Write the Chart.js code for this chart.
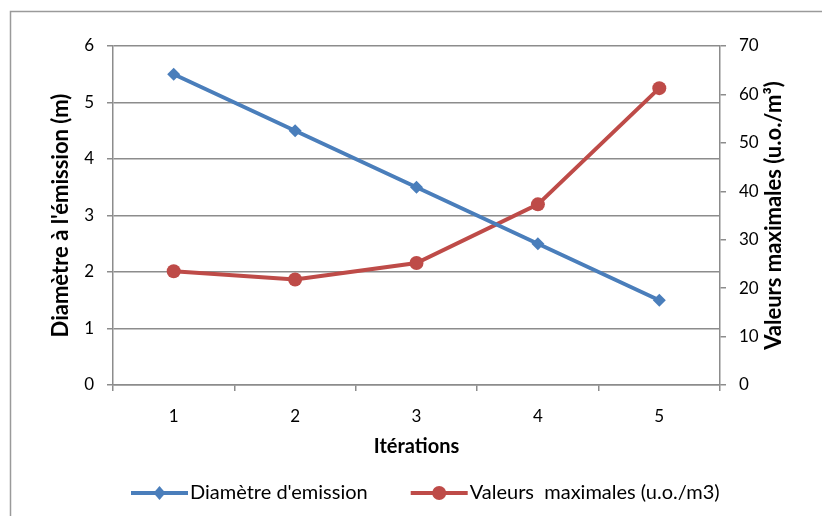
<!DOCTYPE html>
<html>
<head>
<meta charset="utf-8">
<script src="https://cdn.jsdelivr.net/npm/chart.js@4"></script>
<style>
  html, body { margin: 0; padding: 0; background: #fff; }
  #wrap { width: 822px; height: 516px; }
</style>
</head>
<body>
<div id="wrap"><canvas id="myChart" width="822" height="516"></canvas></div>
<script>
const iterations = ['1', '2', '3', '4', '5'];
const diametre = [5.5, 4.5, 3.5, 2.5, 1.5];
const valeursMax = [23.5, 21.8, 25.2, 37.3, 61.3];
const leftTicks = [0, 1, 2, 3, 4, 5, 6];
const rightTicks = [0, 10, 20, 30, 40, 50, 60, 70];

const blue = '#4a7ebb';
const red = '#be4b48';
const gridGray = '#8c8c8c';
const font = 'Lato, "Liberation Sans", sans-serif';
const rightTitle = 'Valeurs maximales (u.o./m³)';

// frame, right-hand title and an excel-like legend (line + marker + text)
const extras = {
    id: 'extras',
    beforeDraw(chart) {
        const c = chart.ctx;
        c.save();
        c.strokeStyle = '#9a9a9a';
        c.lineWidth = 1.5;
        c.strokeRect(10.5, 11.5, 1000, 1000);
        c.restore();
    },
    afterDraw(chart) {
        const c = chart.ctx;
        const a = chart.chartArea;
        c.save();
        c.translate(774, (a.top + a.bottom) / 2);
        c.rotate(-Math.PI / 2);
        c.font = 'bold 22px ' + font;
        c.fillStyle = '#000';
        c.textAlign = 'center';
        c.textBaseline = 'middle';
        c.fillText(rightTitle, 0, 0);
        c.restore();

        // legend
        c.save();
        c.font = '20px ' + font;
        c.textBaseline = 'middle';
        c.textAlign = 'left';
        let x = 131;
        const y = 493;
        chart.data.datasets.forEach(d => {
            c.strokeStyle = d.borderColor;
            c.lineWidth = 4;
            c.beginPath();
            c.moveTo(x, y); c.lineTo(x + 57, y);
            c.stroke();
            c.fillStyle = d.borderColor;
            c.beginPath();
            const mx = x + 28.5;
            if (d.pointStyle === 'rectRot') {
                c.moveTo(mx, y - 7); c.lineTo(mx + 6, y); c.lineTo(mx, y + 7); c.lineTo(mx - 6, y);
            } else {
                c.arc(mx, y, 7, 0, Math.PI * 2);
            }
            c.closePath();
            c.fill();
            c.fillStyle = '#000';
            c.fillText(d.label, x + 59, y);
            x += 59 + c.measureText(d.label).width + 43;
        });
        c.restore();
    }
};

const ctx = document.getElementById('myChart').getContext('2d');
const myChart = new Chart(ctx, {
    type: 'line',
    data: {
        labels: iterations,
        datasets: [{
            label: "Diamètre d'emission",
            data: diametre,
            yAxisID: 'y',
            borderColor: blue,
            backgroundColor: blue,
            borderWidth: 4,
            pointStyle: 'rectRot',
            pointRadius: 6.5,
            pointBorderWidth: 0,
            tension: 0
        }, {
            label: 'Valeurs  maximales (u.o./m3)',
            data: valeursMax,
            yAxisID: 'y1',
            borderColor: red,
            backgroundColor: red,
            borderWidth: 4,
            pointStyle: 'circle',
            pointRadius: 7,
            pointBorderWidth: 0,
            tension: 0
        }]
    },
    options: {
        responsive: false,
        animation: false,
        layout: { padding: { left: 46, right: 35, top: 46, bottom: 64 } },
        scales: {
            x: {
                offset: true,
                afterFit: s => { s.height = 67; },
                grid: { offset: true, drawOnChartArea: false, color: gridGray, lineWidth: 1.5, tickLength: 6 },
                border: { color: gridGray, width: 1.5 },
                ticks: { color: '#000', padding: 15, font: { family: font, size: 17 } },
                title: { display: true, text: 'Itérations', color: '#000', padding: { top: 13, bottom: -7 },
                    font: { family: font, size: 20, weight: 'bold' } }
            },
            y: {
                position: 'left',
                min: 0, max: 6,
                afterBuildTicks: s => { s.ticks = leftTicks.map(v => ({ value: v })); },
                afterFit: s => { s.width = 67; },
                grid: { color: gridGray, lineWidth: 1.5, tickLength: 6 },
                border: { color: gridGray, width: 1.5 },
                ticks: { color: '#000', padding: 13, font: { family: font, size: 17 } },
                title: { display: true, text: "Diamètre à l'émission (m)", color: '#000',
                    padding: { top: 2, bottom: 2 },
                    font: { family: font, size: 22, weight: 'bold' } }
            },
            y1: {
                position: 'right',
                min: 0, max: 70,
                afterBuildTicks: s => { s.ticks = rightTicks.map(v => ({ value: v })); },
                afterFit: s => { s.width = 67; },
                grid: { drawOnChartArea: false, color: gridGray, lineWidth: 1.5, tickLength: 6 },
                border: { color: gridGray, width: 1.5 },
                ticks: { color: '#000', padding: 13, font: { family: font, size: 17 } }
            }
        },
        plugins: {
            legend: { display: false },
            tooltip: { enabled: false }
        }
    },
    plugins: [extras]
});
</script>
</body>
</html>
